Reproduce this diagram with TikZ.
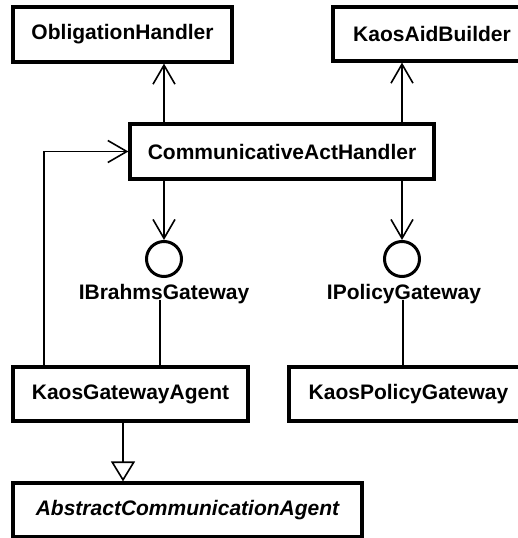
\documentclass[tikz,border=0pt]{standalone}
\usepackage{fontspec}
\setmainfont{Liberation Sans}
\usetikzlibrary{arrows.meta}
\begin{document}
\begin{tikzpicture}[x=1pt,y=-1pt,
  cls/.style={draw,line width=3.2pt,inner sep=0pt,
    font=\fontsize{21}{25}\selectfont\bfseries},
  iface/.style={draw,circle,line width=3pt,minimum size=35pt,inner sep=0pt},
  ilabel/.style={inner sep=0pt,font=\fontsize{21}{25}\selectfont\bfseries},
  conn/.style={line width=1.6pt},
  dep/.style={conn,-{Straight Barb[length=19pt,width=22pt,line width=1.6pt]}},
  gen/.style={conn,-{Triangle[open,length=20pt,width=24pt,line width=1.6pt]}}]
\clip (0,0) rectangle (518,538);

% classes
\node[cls,minimum width=219pt,minimum height=55pt] (OH)  at (122.5,34.5) {ObligationHandler};
\node[cls,minimum width=198pt,minimum height=54pt] (KAB) at (432,34)     {KaosAidBuilder};
\node[cls,minimum width=304pt,minimum height=55pt] (CAH) at (282,151.5)  {CommunicativeActHandler};
\node[cls,minimum width=235pt,minimum height=54pt] (KGA) at (130.5,394)  {KaosGatewayAgent};
\node[cls,minimum width=239pt,minimum height=54pt] (KPG) at (408.5,394)  {KaosPolicyGateway};
\node[cls,minimum width=349pt,minimum height=54pt] (ACA) at (187.5,510)  {\itshape AbstractCommunicationAgent};

% interfaces (lollipops) and their names
\node[iface] (IBG) at (164,259) {};
\node[iface] (IPG) at (402,259) {};
\node[ilabel,anchor=base] (IBGl) at (164,299) {IBrahmsGateway};
\node[ilabel,anchor=base] (IPGl) at (404,299) {IPolicyGateway};

% dependencies
\draw[dep] (CAH.north -| IBG) -- (OH.south -| IBG);
\draw[dep] (CAH.north -| IPG) -- (KAB.south -| IPG);
\draw[dep] (CAH.south -| IBG) -- (IBG.north);
\draw[dep] (CAH.south -| IPG) -- (IPG.north);
\draw[dep] (KGA.north -| 44,0) |- (CAH.west);

% realizations
\draw[conn] ([yshift=4pt]IBGl.south -| 160,0) -- (KGA.north -| 160,0);
\draw[conn] ([yshift=4pt]IPGl.south -| 403,0) -- (KPG.north -| 403,0);

% generalization
\draw[gen] (KGA.south -| 123,0) -- (ACA.north -| 123,0);
\end{tikzpicture}
\end{document}
